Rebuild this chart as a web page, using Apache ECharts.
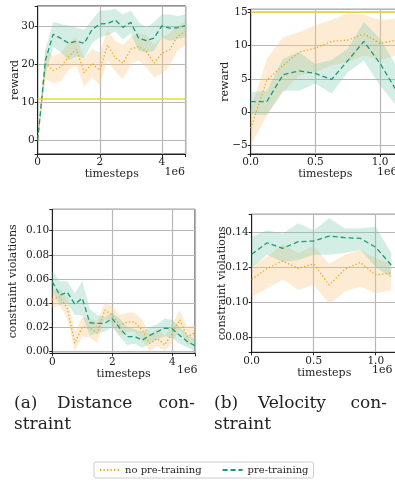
<!DOCTYPE html>
<html>
<head>
<meta charset="utf-8">
<script src="https://cdn.jsdelivr.net/npm/echarts@6/dist/echarts.min.js"></script>
<style>
html, body { margin: 0; padding: 0; background: #fff; }
#chart { width: 395px; height: 482px; }
</style>
</head>
<body>
<div id="chart"></div>
<script>
// timesteps, in units of 1e6
const stepsLong = [0, 0.25, 0.5, 0.75, 1, 1.25, 1.5, 1.75, 2, 2.25, 2.5, 2.75, 3, 3.25, 3.5, 3.75, 4, 4.25, 4.5, 4.75];
const stepsShort = [0, 0.125, 0.25, 0.375, 0.5, 0.625, 0.75, 0.875, 1, 1.125];

// (a) distance constraint - reward
const distRewardNo   = [0, 20.2, 18.3, 19.3, 22, 23.8, 17.7, 20.2, 18.3, 25, 21.6, 20.2, 23.9, 24.6, 23.3, 20.2, 22.8, 23.7, 27.2, 28.5];
const distRewardNoHi = [0, 24, 22, 23, 25.5, 27, 21.5, 24, 23, 29, 26, 25, 27, 28, 27.5, 25, 27, 28, 30, 31];
const distRewardNoLo = [0, 16, 15, 15.5, 18.5, 19.5, 14, 16.5, 14.5, 21, 18, 16, 20, 21, 19, 16.5, 17.5, 19.5, 23.5, 25];
const distRewardPre   = [0, 21, 27.8, 26.7, 25.4, 26, 25.4, 29, 30.5, 30.6, 31.5, 29.6, 30.9, 26.8, 26.1, 26.8, 30, 29.4, 29.5, 30];
const distRewardPreHi = [0, 24, 31, 30.5, 30, 29.5, 29, 31.5, 34, 34, 34.5, 33, 34, 31, 29.5, 31, 33, 33, 32.5, 33];
const distRewardPreLo = [0, 17, 24.5, 23, 21, 22, 21.5, 25.5, 27, 27.5, 28.5, 26.5, 28, 23.5, 23, 23.5, 27, 26, 26.5, 27];
const distRewardLimit = 11;

// (b) velocity constraint - reward
const velRewardNo   = [-2.4, 4.8, 7.0, 9.0, 9.6, 10.6, 10.8, 11.7, 10.3, 10.8];
const velRewardNoHi = [0.5, 8, 11.2, 12, 13, 13.8, 14.8, 14.6, 13.8, 14];
const velRewardNoLo = [-5, -0.5, 3, 5.5, 6, 7, 7.5, 8.5, 7.8, 8.5];
const velRewardPre   = [1.6, 1.6, 5.6, 6.2, 5.8, 4.9, 7.7, 10.6, 7.3, 3.3];
const velRewardPreHi = [3, 3.2, 8, 9, 7.2, 7.8, 9.5, 13.5, 11, 7];
const velRewardPreLo = [-0.3, -0.4, 3.2, 3.2, 4.3, 2.8, 6, 7.7, 4, 1];
const velRewardLimit = 15;

// (a) distance constraint - constraint violations
const distViolNo   = [0.043, 0.045, 0.0355, 0.0064, 0.020, 0.019, 0.015, 0.034, 0.030, 0.0216, 0.024, 0.024, 0.0175, 0.0064, 0.0105, 0.005, 0.0147, 0.026, 0.012, 0.015];
const distViolNoHi = [0.05, 0.052, 0.044, 0.016, 0.028, 0.027, 0.024, 0.041, 0.037, 0.03, 0.032, 0.032, 0.026, 0.014, 0.018, 0.013, 0.022, 0.034, 0.02, 0.022];
const distViolNoLo = [0.036, 0.038, 0.027, 0.0, 0.012, 0.011, 0.007, 0.027, 0.022, 0.013, 0.016, 0.016, 0.009, 0.0, 0.004, 0.0, 0.007, 0.018, 0.005, 0.008];
const distViolPre   = [0.0576, 0.0465, 0.0488, 0.039, 0.0438, 0.0235, 0.023, 0.023, 0.027, 0.019, 0.012, 0.012, 0.009, 0.013, 0.016, 0.019, 0.0185, 0.013, 0.008, 0.0045];
const distViolPreHi = [0.066, 0.058, 0.058, 0.048, 0.058, 0.035, 0.03, 0.028, 0.032, 0.027, 0.02, 0.018, 0.016, 0.02, 0.022, 0.027, 0.026, 0.02, 0.014, 0.01];
const distViolPreLo = [0.05, 0.038, 0.04, 0.03, 0.03, 0.013, 0.015, 0.016, 0.02, 0.012, 0.005, 0.006, 0.003, 0.006, 0.01, 0.012, 0.011, 0.006, 0.003, 0.0];
const distViolLimit = 0.115;

// (b) velocity constraint - constraint violations
const velViolNo   = [0.113, 0.1193, 0.1235, 0.1193, 0.1218, 0.1098, 0.1187, 0.1227, 0.1155, 0.1168];
const velViolNoHi = [0.121, 0.126, 0.133, 0.128, 0.132, 0.122, 0.127, 0.13, 0.125, 0.122];
const velViolNoLo = [0.103, 0.108, 0.113, 0.107, 0.11, 0.099, 0.106, 0.109, 0.105, 0.107];
const velViolPre   = [0.1273, 0.1339, 0.1307, 0.1345, 0.1349, 0.1377, 0.1368, 0.1364, 0.1313, 0.1212];
const velViolPreHi = [0.137, 0.141, 0.139, 0.145, 0.141, 0.148, 0.142, 0.142, 0.143, 0.128];
const velViolPreLo = [0.12, 0.127, 0.123, 0.124, 0.127, 0.127, 0.128, 0.13, 0.12, 0.114];
const velViolLimit = 0.073;

const FONT = 'DejaVu Serif';
const ORANGE = '#f2a51a';
const GREEN = '#1b9a76';
const ORANGE_FILL = 'rgba(248,200,130,0.35)';
const GREEN_FILL = 'rgba(120,200,175,0.32)';
const LIMIT = '#ecd932';
const GRIDLINE = '#b8b8b8';

const pts = (xs, ys) => xs.map((x, i) => [x, ys[i]]);

// shaded band between lo and hi, drawn as one polygon through the axes
function band(k, xs, lo, hi, fill) {
    return {
        type: 'custom', xAxisIndex: k, yAxisIndex: k, silent: true, z: 1, clip: true,
        data: [[xs[0], lo[0]]],
        renderItem: (params, api) => {
            const top = xs.map((x, i) => api.coord([x, hi[i]]));
            const bottom = xs.map((x, i) => api.coord([x, lo[i]])).reverse();
            return { type: 'polygon', shape: { points: top.concat(bottom) }, style: { fill: fill } };
        }
    };
}

function meanLine(k, name, xs, ys, color, dash, limit) {
    const s = { type: 'line', name: name, xAxisIndex: k, yAxisIndex: k, data: pts(xs, ys), symbol: 'none',
        lineStyle: { color: color, width: 1.3, type: dash }, itemStyle: { color: color }, z: 3 };
    if (limit !== undefined) {
        s.markLine = { silent: true, symbol: 'none', label: { show: false },
            lineStyle: { color: LIMIT, type: 'solid', width: 1.5 }, data: [{ yAxis: limit }] };
    }
    return s;
}

function panel(k, xs, no, noLo, noHi, pre, preLo, preHi, limit) {
    return [
        band(k, xs, noLo, noHi, ORANGE_FILL),
        band(k, xs, preLo, preHi, GREEN_FILL),
        meanLine(k, 'no pre-training', xs, no, ORANGE, [1.3, 2.2]),
        meanLine(k, 'pre-training', xs, pre, GREEN, [5, 3], limit)
    ];
}

const stepFmt = (step, digits, minus) => v => {
    const r = v / step;
    if (Math.abs(r - Math.round(r)) > 1e-6) return '';
    const s = v.toFixed(digits);
    return (minus && v < 0) ? '\u2212' + s.slice(1) : s;
};

const txt = { fontFamily: FONT, fontSize: 11, color: '#222' };
const tickTxt = { fontFamily: FONT, fontSize: 10.5, color: '#222' };

function xAx(k, max, step, digits) {
    return { type: 'value', gridIndex: k, min: 0, max: max, interval: step,
        name: 'timesteps', nameLocation: 'middle', nameGap: 12, nameTextStyle: txt,
        axisLine: { show: true, onZero: false, lineStyle: { color: '#222', width: 1 } },
        axisTick: { show: true, length: 3, lineStyle: { color: '#222' } },
        axisLabel: Object.assign({ margin: 3, formatter: stepFmt(step, digits) }, tickTxt),
        splitLine: { show: true, lineStyle: { color: GRIDLINE, width: 1.2 } } };
}

function yAx(k, min, max, split, step, digits, name, gap) {
    return { type: 'value', gridIndex: k, min: min, max: max, splitNumber: split,
        name: name, nameLocation: 'middle', nameRotate: 90, nameGap: gap, nameMoveOverlap: false, nameTextStyle: txt,
        axisLine: { show: true, onZero: false, lineStyle: { color: '#222', width: 1 } },
        axisTick: { show: true, length: 3, lineStyle: { color: '#222' } },
        axisLabel: Object.assign({ margin: 3, formatter: stepFmt(step, digits, true) }, tickTxt),
        splitLine: { show: true, lineStyle: { color: GRIDLINE, width: 1.2 } } };
}

const gridBase = { show: true, borderColor: '#222', borderWidth: 1, backgroundColor: '#fff', outerBoundsMode: 'none', containLabel: false };

const captionStyle = { fontFamily: FONT, fontSize: 17, fill: '#222' };
function cap(x, y, text, align) {
    return { type: 'text', x: x, y: y,
        style: Object.assign({ text: text, align: align || 'left', verticalAlign: 'middle' }, captionStyle) };
}
function sci(x, y, align) {
    return { type: 'text', x: x, y: y, z: 10,
        style: { text: '1e6', align: align, verticalAlign: 'middle', fontFamily: FONT, fontSize: 11, fill: '#222' } };
}

const option = {
    animation: false,
    backgroundColor: '#fff',
    grid: [
        Object.assign({ left: 37.7, top: 6, width: 148, height: 148 }, gridBase),
        Object.assign({ left: 250.7, top: 9.3, width: 149, height: 144.7 }, gridBase),
        Object.assign({ left: 52.3, top: 209.3, width: 142.7, height: 144 }, gridBase),
        Object.assign({ left: 251.7, top: 214.3, width: 145, height: 138 }, gridBase)
    ],
    xAxis: [
        xAx(0, 4.77, 2, 0),
        xAx(1, 1.152, 0.5, 1),
        xAx(2, 4.76, 2, 0),
        xAx(3, 1.169, 0.5, 1)
    ],
    yAxis: [
        yAx(0, -3.6, 35.2, 4, 10, 0, 'reward', 16.7),
        yAx(1, -6.25, 15.4, 4, 5, 0, 'reward', 19.7),
        yAx(2, -0.0019, 0.1178, 6, 0.02, 2, 'constraint violations', 33.3),
        yAx(3, 0.0715, 0.1501, 4, 0.02, 2, 'constraint violations', 24.5)
    ],
    legend: {
        data: ['no pre-training', 'pre-training'],
        left: 94, top: 462,
        padding: [3, 5], itemWidth: 20, itemHeight: 10, itemGap: 20,
        itemStyle: { opacity: 0 },
        borderColor: '#cccccc', borderWidth: 1, borderRadius: 2,
        textStyle: { fontFamily: FONT, fontSize: 10, color: '#222' }
    },
    graphic: [
        sci(185, 172, 'right'),
        sci(377, 172, 'left'),
        sci(177, 370, 'left'),
        sci(372, 370, 'left'),
        cap(14, 404, '(a)'), cap(57, 404, 'Distance'), cap(195, 404, 'con-', 'right'),
        cap(14, 425, 'straint'),
        cap(214, 404, '(b)'), cap(258, 404, 'Velocity'), cap(387, 404, 'con-', 'right'),
        cap(214, 425, 'straint')
    ],
    series: [].concat(
        panel(0, stepsLong, distRewardNo, distRewardNoLo, distRewardNoHi, distRewardPre, distRewardPreLo, distRewardPreHi, distRewardLimit),
        panel(1, stepsShort, velRewardNo, velRewardNoLo, velRewardNoHi, velRewardPre, velRewardPreLo, velRewardPreHi, velRewardLimit),
        panel(2, stepsLong, distViolNo, distViolNoLo, distViolNoHi, distViolPre, distViolPreLo, distViolPreHi, distViolLimit),
        panel(3, stepsShort, velViolNo, velViolNoLo, velViolNoHi, velViolPre, velViolPreLo, velViolPreHi, velViolLimit)
    )
};

const myChart = echarts.init(document.getElementById('chart'));
myChart.setOption(option);
</script>
</body>
</html>
